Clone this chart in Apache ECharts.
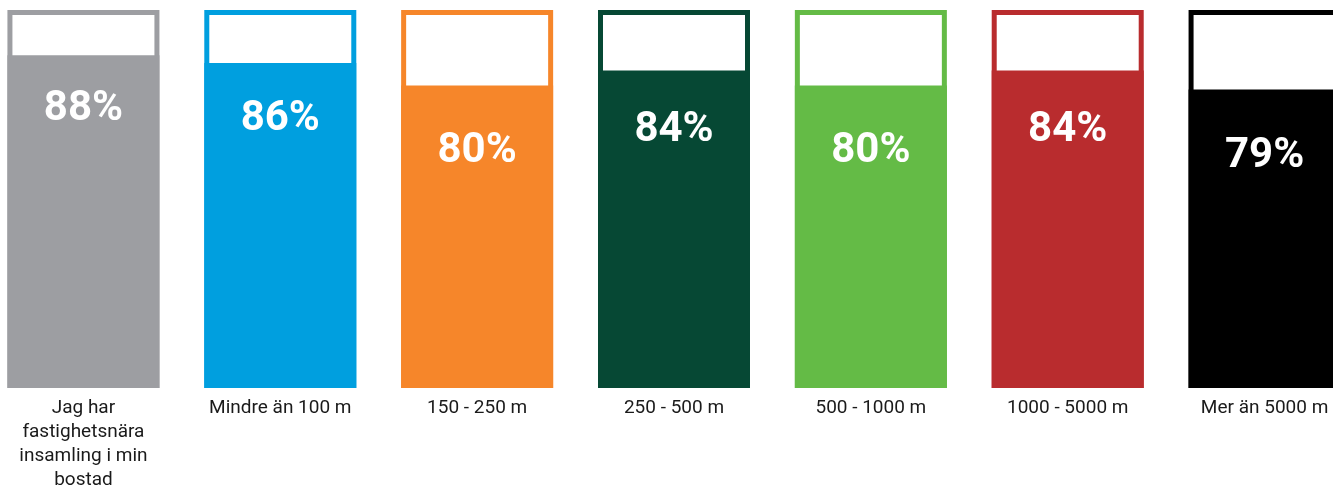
<!DOCTYPE html>
<html>
<head>
<meta charset="utf-8">
<style>
  html, body { margin: 0; padding: 0; background: #ffffff; overflow: hidden; width: 1333px; height: 493px; }
  #chart { position: absolute; left: -15.4px; top: 0; width: 1378px; height: 493px; }
</style>
<script src="https://cdn.jsdelivr.net/npm/echarts@6/dist/echarts.min.js"></script>
</head>
<body>
<div id="chart"></div>
<script>
const categories = [
  "Jag har\nfastighetsnära\ninsamling i min\nbostad",
  "Mindre än 100 m",
  "150 - 250 m",
  "250 - 500 m",
  "500 - 1000 m",
  "1000 - 5000 m",
  "Mer än 5000 m"
];
const values = [88, 86, 80, 84, 80, 84, 79];
const frameValues = [100, 100, 100, 100, 100, 100, 100];
const colors = ["#9d9ea2", "#009fdf", "#f6862a", "#064834", "#64bb46", "#b92c2e", "#000000"];

const chart = echarts.init(document.getElementById('chart'));
const option = {
  animation: false,
  grid: { left: 0, right: 0, top: 10, bottom: 105, containLabel: false },
  xAxis: {
    type: 'category',
    data: categories,
    axisLine: { show: false },
    axisTick: { show: false },
    axisLabel: {
      interval: 0,
      margin: 8,
      fontFamily: 'Roboto',
      fontSize: 19,
      lineHeight: 24,
      color: '#1a1a1a'
    }
  },
  yAxis: { type: 'value', min: 0, max: 100, show: false },
  series: [
    {
      type: 'bar',
      barWidth: 152,
      barGap: '-100%',
      silent: true,
      data: frameValues.map((v, i) => ({
        value: v,
        itemStyle: { color: '#ffffff', borderColor: colors[i], borderWidth: 5 }
      }))
    },
    {
      type: 'bar',
      barWidth: 152,
      barGap: '-100%',
      data: values.map((v, i) => ({
        value: v,
        itemStyle: { color: colors[i] },
        label: {
          show: true,
          position: ['50%', 54 + 1.5 * (88 - v)],
          align: 'center',
          verticalAlign: 'middle',
          formatter: v + '%',
          fontFamily: 'Roboto',
          fontWeight: 'bold',
          fontSize: 42,
          color: '#ffffff'
        }
      }))
    }
  ]
};
chart.setOption(option);
</script>
</body>
</html>
